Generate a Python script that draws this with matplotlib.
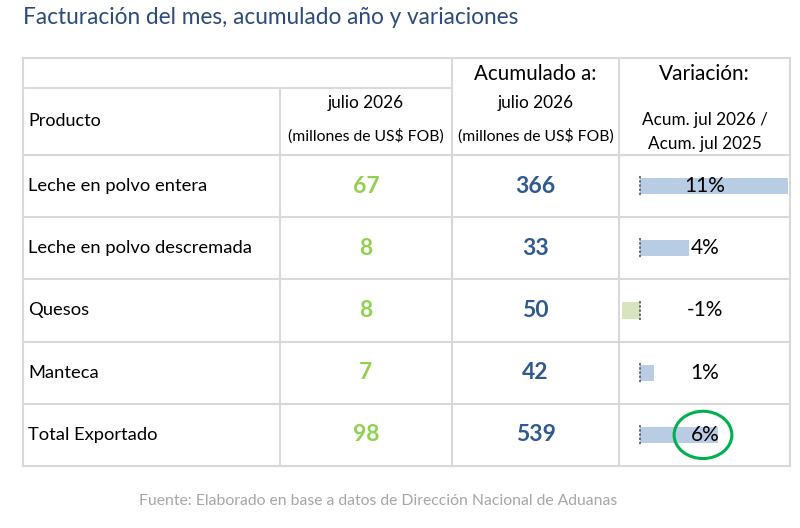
import matplotlib
matplotlib.use("Agg")
import matplotlib.pyplot as plt
from matplotlib.patches import Ellipse

# Data
productos = ["Leche en polvo entera", "Leche en polvo descremada", "Quesos",
             "Manteca", "Total Exportado"]
mes_valores = [67, 8, 8, 7, 98]
acum_valores = [366, 33, 50, 42, 539]
variacion = [11.0, 3.6, -1.4, 1.0, 5.8]  # % acum. jul 2026 / acum. jul 2025

titulo = "Facturación del mes, acumulado año y variaciones"
fuente = "Fuente: Elaborado en base a datos de Dirección Nacional de Aduanas"

W, H = 800, 528
fig = plt.figure(figsize=(W / 100, H / 100), dpi=100)
ax = fig.add_axes([0, 0, 1, 1])
ax.set_xlim(0, W)
ax.set_ylim(H, 0)
ax.axis("off")

FONT = "Lato"
GRID = "#d9d9d9"
GREEN = "#92d050"
BLUE = "#2f5a8f"

# table geometry (pixels)
xcols = [23, 280, 452, 619, 790]
ytop, ysub, yhead = 58, 88, 155
row_h = 62.2
yrows = [yhead + i * row_h for i in range(len(productos) + 1)]

# grid lines
for x in xcols:
    if x == 280:
        ax.plot([x, x], [ysub, yrows[-1]], color=GRID, lw=1.5)
    else:
        ax.plot([x, x], [ytop, yrows[-1]], color=GRID, lw=1.5)
ax.plot([xcols[0], xcols[-1]], [ytop, ytop], color=GRID, lw=1.5)
ax.plot([xcols[0], xcols[2]], [ysub, ysub], color=GRID, lw=1.5)
for y in yrows:
    ax.plot([xcols[0], xcols[-1]], [y, y], color=GRID, lw=1.5)

# title and footer
ax.text(23, 18, titulo, fontsize=16.3, color="#2b4b7e", family=FONT,
        va="center", ha="left")
ax.text(378, 501, fuente, fontsize=11.3, color="#a6a6a6", family=FONT,
        va="center", ha="center")

# header
c2 = (xcols[1] + xcols[2]) / 2
c3 = (xcols[2] + xcols[3]) / 2
c4 = (xcols[3] + xcols[4]) / 2
ax.text(28, 121, "Producto", fontsize=13, family=FONT, va="center")
ax.text(c2, 103, "julio 2026", fontsize=12.4, family=FONT, ha="center", va="center")
ax.text(c2, 136, "(millones de US$ FOB)", fontsize=11.3, family=FONT, ha="center", va="center")
ax.text(c3, 74, "Acumulado a:", fontsize=14.8, family=FONT, ha="center", va="center")
ax.text(c3, 103, "julio 2026", fontsize=12.4, family=FONT, ha="center", va="center")
ax.text(c3, 136, "(millones de US$ FOB)", fontsize=11.3, family=FONT, ha="center", va="center")
ax.text(c4, 74, "Variación:", fontsize=15, family=FONT, ha="center", va="center")
ax.text(c4, 120, "Acum. jul 2026 /", fontsize=12.3, family=FONT, ha="center", va="center")
ax.text(c4, 144, "Acum. jul 2025", fontsize=12.3, family=FONT, ha="center", va="center")

# body rows
for i, prod in enumerate(productos):
    yc = (yrows[i] + yrows[i + 1]) / 2
    ax.text(28, yc, prod, fontsize=13.2, family=FONT, va="center")
    ax.text(c2, yc, str(mes_valores[i]), fontsize=16.5, family=FONT,
            fontweight="bold", color=GREEN, ha="center", va="center")
    ax.text(c3, yc, str(acum_valores[i]), fontsize=16.5, family=FONT,
            fontweight="bold", color=BLUE, ha="center", va="center")

# data bars in variation column
bx0, bx1 = 621, 789
bax = fig.add_axes([bx0 / W, 1 - yrows[-1] / H, (bx1 - bx0) / W, (yrows[-1] - yhead) / H])
bax.set_xlim(-1.45, 11.05)
bax.set_ylim(len(productos) - 0.5, -0.5)
bax.axis("off")
bar_colors = ["#b8cce4" if v >= 0 else "#d7e4bd" for v in variacion]
bax.barh(range(len(variacion)), variacion, height=0.26, color=bar_colors)
for i, v in enumerate(variacion):
    bax.plot([0, 0], [i - 0.16, i + 0.16], color="#595959", lw=1.2, ls=(0, (1.5, 1)))
    bax.text(4.8, i, f"{round(v):.0f}%", fontsize=15, family=FONT, ha="center", va="center")

# highlight on total
tot = len(variacion) - 1
bax.add_patch(Ellipse((4.65, tot), width=4.3, height=0.76, fill=False,
                      edgecolor="#00b050", lw=2.2))

fig.savefig("out.png", dpi=100)
